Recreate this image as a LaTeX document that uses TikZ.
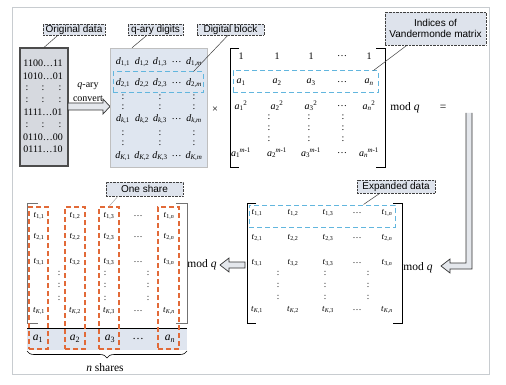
\documentclass[tikz,border=0pt]{standalone}
\usepackage{fontspec}
\setmainfont{Liberation Serif}
\newfontfamily\labfont{Liberation Sans}
\usetikzlibrary{decorations.pathreplacing}
\definecolor{lblfill}{HTML}{DEE3EC}
\definecolor{digfill}{HTML}{DFE6F0}
\definecolor{odfill}{HTML}{D6D9DF}
\definecolor{cyandash}{HTML}{62B6DE}
\definecolor{orangedash}{HTML}{E26A38}
\definecolor{arrfill}{HTML}{E4E7EC}
\definecolor{framegray}{HTML}{C8CCD0}
\definecolor{rowfill}{HTML}{DFE5EF}
\newcommand\sbx[2]{\textit{#1}\textsubscript{#2}}
\newcommand\sbsp[3]{\textit{#1}\textsubscript{#2}\kern-0.4pt\textsuperscript{#3}}
\begin{document}
\begin{tikzpicture}[x=1pt,y=-1pt,
  lbl/.style={draw=black!75, densely dotted, fill=lblfill, font=\labfont\fontsize{10}{11.5}\selectfont, inner sep=0pt, align=center},
  callout/.style={draw=black!75, line width=0.5pt},
  odbox/.style={draw=black!70, line width=1.1pt, fill=odfill, inner sep=0pt},
  digbox/.style={draw=black!25, line width=0.5pt, fill=digfill, inner sep=0pt},
  cyanbox/.style={draw=cyandash, line width=1pt, dash pattern=on 5pt off 3pt, inner sep=0pt},
  orbox/.style={draw=orangedash, line width=1.1pt, dash pattern=on 5pt off 3pt, inner sep=0pt},
  bintxt/.style={font=\fontsize{10}{11}\selectfont, inner sep=0pt},
  dent/.style={font=\fontsize{10}{11}\selectfont, inner sep=0pt},
  vent/.style={font=\fontsize{10}{11}\selectfont, inner sep=0pt},
  tent/.style={font=\fontsize{9}{10}\selectfont, inner sep=0pt},
  bigtxt/.style={font=\fontsize{11.5}{12}\selectfont, inner sep=0pt},
  hollow/.style={fill=arrfill, draw=black!80, line width=0.7pt, line join=miter},
  brk/.style={draw=black, line width=0.8pt},
]
\useasboundingbox (0,0) rectangle (506,385);
\fill[white] (0,0) rectangle (506,385);
\draw[framegray, line width=0.8pt] (12,7) rectangle (489,374);

% ---------- Original data ----------
\node[odbox, minimum width=48pt, minimum height=118pt] (od) at (44,107) {};
\foreach \y/\t [count=\k] in {63/1100…11, 76/1010…01, 112/1111…01, 137/0110…00, 149/0111…10}
  \node[bintxt] (bin\k) at (43,\y) {\t};
\foreach \y in {88,100,125}
  \foreach \x in {27,43,60}
    \node[bintxt] (bc-\x-\y) at (\x,\y) {:};
\node[lbl, minimum width=62pt, minimum height=11pt] (ol) at (74,29.5) {Original data};
\coordinate (olc) at ([xshift=-16pt]ol.south);
\draw[callout] (olc) -- (od.north);

% ---------- q-ary convert arrow ----------
\node[bintxt] (qa1) at (88,86) {\textit{q}-ary};
\node[bintxt] (qa2) at (88,99) {convert};
\draw[hollow] (68,103) -- (103,103) -- (103,99) -- (110,106.5) -- (103,114) -- (103,110) -- (68,110) -- cycle;

% ---------- digits ----------
\node[digbox, minimum width=97pt, minimum height=119pt] (dg) at (158.5,107.5) {};
\node[cyanbox, minimum width=90pt, minimum height=21pt] (db) at (158,82.5) {};
\foreach \y/\r/\rn in {62/1/1, 83/2/2, 119/\textit{k}/k, 156/\textit{K}/K} {
  \foreach \x/\c/\cn in {123/1/1, 142/2/2, 160/3/3, 194/\textit{m}/m}
    \node[dent] (d-\rn-\cn) at (\x,\y) {\sbx{d}{\r,\c}};
  \node[dent] (d-\rn-dots) at (176.5,\y) {…};
}
\foreach \y in {97,107,133,143}
  \foreach \x in {123,160,194}
    \node[dent] (dc-\x-\y) at (\x,\y) {:};
\node[lbl, minimum width=55pt, minimum height=11pt] (ql) at (155.5,29.5) {q-ary digits};
\coordinate (qlc) at ([xshift=-8.5pt]ql.south);
\coordinate (dgc) at ([xshift=-26.5pt]dg.north);
\draw[callout] (qlc) -- (dgc);
\node[lbl, minimum width=67pt, minimum height=11pt] (bl) at (230.5,29.5) {Digital block};
\coordinate (blc) at ([xshift=-2.5pt]bl.south);
\coordinate (dbc) at ([xshift=-10pt]db.north east);
\draw[callout] (blc) -- (dbc);

\node[bigtxt, font=\fontsize{10.5}{11}\selectfont] (times) at (215,110) {×};

% ---------- Vandermonde ----------
\draw[brk] (239,48) -- (230,48) -- (230,167) -- (239,167);
\draw[brk] (376,48) -- (385,48) -- (385,167) -- (376,167);
\node[cyanbox, minimum width=145pt, minimum height=22pt] (vb) at (305.5,82) {};
\foreach \x/\c/\cn in {241/1/1, 277/2/2, 311/3/3, 369/\textit{n}/n} {
  \node[vent] (v1-\cn) at (\x,56) {1};
  \node[vent] (v2-\cn) at (\x,82) {\sbx{a}{\c}};
  \node[vent] (v3-\cn) at (\x,106) {\sbsp{a}{\c}{2}};
  \node[vent] (vm-\cn) at (\x,153) {\sbsp{a}{\c}{\textit{m}-1}};
}
\foreach \y/\k in {56/1,82/2,106/3,153/m}
  \node[vent] (vdots-\k) at (342,\y) {…};
\foreach \y in {117,128,139}
  \foreach \x in {269,309,343}
    \node[vent] (vc-\x-\y) at (\x,\y) {:};
\node[lbl, minimum width=101pt, minimum height=33pt] (il) at (435.5,28.5) {Indices of\\Vandermonde matrix};
\coordinate (ilc) at ([xshift=-28.5pt]il.south);
\coordinate (vbc) at ([xshift=-5pt]vb.north east);
\draw[callout] (ilc) -- (vbc);
\node[bigtxt] (mod1) at (405,108) {mod \textit{q}};
\node[bigtxt] (eq) at (443,108) {=};

% ---------- big return arrow ----------
\fill[arrfill] (466,113) -- (472,113) -- (472,269) -- (450,269) -- (450,273) -- (441,266) -- (450,259) -- (450,263) -- (466,263) -- cycle;
\draw[hollow, fill=none] (466,113) -- (466,263) -- (450,263) -- (450,259) -- (441,266) -- (450,273) -- (450,269) -- (472,269) -- (472,113);
\node[bigtxt] (mod2) at (418,268) {mod \textit{q}};

% ---------- Expanded data ----------
\draw[brk] (256,203) -- (247,203) -- (247,323) -- (256,323);
\draw[brk] (393,203) -- (402,203) -- (402,323) -- (393,323);
\node[cyanbox, minimum width=146pt, minimum height=22pt] (eb) at (322,216) {};
\foreach \y/\r/\rn in {213/1/1, 238/2/2, 263/3/3, 310/\textit{K}/K} {
  \foreach \x/\c/\cn in {257/1/1, 293/2/2, 328/3/3, 387/\textit{n}/n}
    \node[tent] (e-\rn-\cn) at (\x,\y) {\sbx{t}{\r,\c}};
  \node[tent] (e-\rn-dots) at (357,\y) {…};
}
\foreach \y in {273,285,297}
  \foreach \x in {278,325,368}
    \node[tent] (ec-\x-\y) at (\x,\y) {:};
\node[lbl, minimum width=78pt, minimum height=13pt] (el) at (396,186.5) {Expanded data};
\coordinate (elc) at ([xshift=-16pt]el.south);
\coordinate (ebc) at ([xshift=-32pt]eb.north east);
\draw[callout] (elc) -- (ebc);

% ---------- left arrow ----------
\draw[hollow] (245,262) -- (229,262) -- (229,258) -- (220,265) -- (229,272) -- (229,268) -- (245,268) -- cycle;
\node[bigtxt] (mod3) at (202,265) {mod \textit{q}};

% ---------- Shares ----------
\fill[rowfill] (27,328) rectangle (187,350);
\draw[black!55, line width=0.6pt] (38,203) -- (27,203) -- (27,323) -- (38,323);
\draw[black!55, line width=0.6pt] (176,203) -- (187,203) -- (187,323) -- (176,323);
\draw[black, line width=0.8pt] (27,328) -- (187,328);
\node[orbox, minimum width=19pt, minimum height=142pt] (s1) at (38.5,278) {};
\node[orbox, minimum width=20pt, minimum height=142pt] (s2) at (75,278) {};
\node[orbox, minimum width=20pt, minimum height=142pt] (s3) at (109,278) {};
\node[orbox, minimum width=21pt, minimum height=142pt] (sn) at (168.5,278) {};
\foreach \y/\r/\rn in {216/1/1, 237/2/2, 262/3/3, 311/\textit{K}/K} {
  \foreach \x/\c/\cn in {39/1/1, 75/2/2, 109/3/3, 169/\textit{n}/n}
    \node[tent] (s-\rn-\cn) at (\x,\y) {\sbx{t}{\r,\c}};
  \node[tent] (s-\rn-dots) at (138,\y) {…};
}
\foreach \y in {273,285,298}
  \foreach \x in {59,105,148}
    \node[tent] (sc-\x-\y) at (\x,\y) {:};
\foreach \x/\c/\cn in {38/1/1, 75/2/2, 110/3/3, 170/\textit{n}/n}
  \node[bigtxt] (sa-\cn) at (\x,339) {\sbx{a}{\c}};
\node[bigtxt] (sa-dots) at (138,339) {…};
\node[lbl, minimum width=77pt, minimum height=14pt] (sl) at (144.5,189) {One share};
\coordinate (slc) at ([xshift=-26.5pt]sl.south);
\draw[callout, draw=black!35] (slc) -- (s3.north);
\draw[decorate, decoration={brace, mirror, amplitude=7pt}, line width=0.6pt] (27,351) -- (187,351);
\node[bigtxt] (nsh) at (105,368) {\textit{n} shares};
\end{tikzpicture}
\end{document}
